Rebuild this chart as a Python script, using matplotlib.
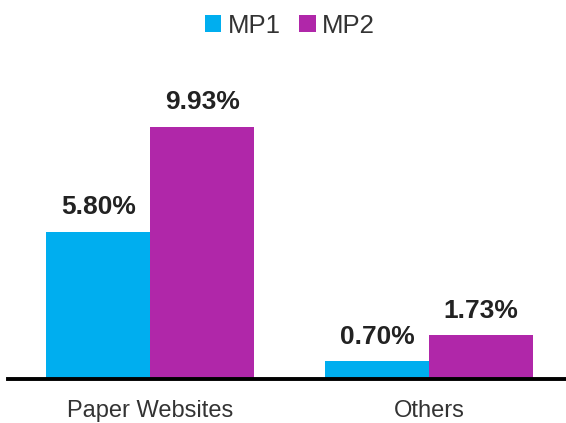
import numpy as np
import matplotlib.pyplot as plt

plt.rcParams['font.family'] = ['Liberation Sans', 'DejaVu Sans']

# Data
categories = ['Paper Websites', 'Others']
series_names = ['MP1', 'MP2']
mp1 = [5.80, 0.70]
mp2 = [9.93, 1.73]
colors = ['#00AEEF', '#B027A9']

fig = plt.figure(figsize=(5.66, 4.23), dpi=100)
ax = fig.add_axes([0.014, 0.104, 0.986, 0.754])

x = np.arange(len(categories))
w = 0.373
b1 = ax.bar(x - w / 2, mp1, w, color=colors[0], label=series_names[0])
b2 = ax.bar(x + w / 2, mp2, w, color=colors[1], label=series_names[1])

for bars, vals in [(b1, mp1), (b2, mp2)]:
    for bar, v in zip(bars, vals):
        ax.annotate(f'{v:.2f}%', (bar.get_x() + bar.get_width() / 2, v),
                    xytext=(0, 9), textcoords='offset points',
                    ha='center', va='bottom', fontsize=19, fontweight='bold',
                    color='#222222')

ax.set_xlim(-0.51, 1.49)
ax.set_ylim(0, 12.56)
ax.set_xticks(x)
ax.set_xticklabels(categories, fontsize=17, color='#333333')
ax.tick_params(axis='x', length=0, pad=15)
ax.set_yticks([])
for s in ['top', 'right', 'left']:
    ax.spines[s].set_visible(False)
ax.spines['bottom'].set_linewidth(2.8)
ax.spines['bottom'].set_color('black')

fig.legend(loc='upper center', bbox_to_anchor=(0.512, 1.022), ncol=2, frameon=False,
           fontsize=18.5, handlelength=0.65, handleheight=0.65, handletextpad=0.25,
           columnspacing=0.7, labelcolor='#333333')

fig.savefig('out.png', dpi=100)
